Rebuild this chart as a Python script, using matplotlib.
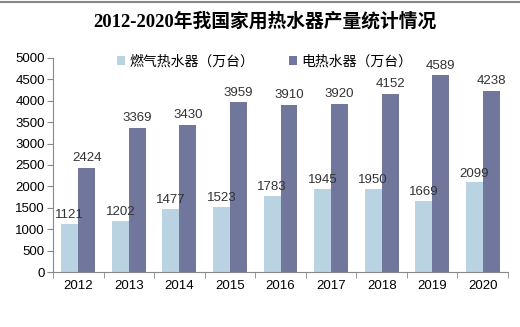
import matplotlib
matplotlib.use("Agg")
import matplotlib.pyplot as plt
import numpy as np

plt.rcParams['font.family'] = ['Liberation Sans', 'Noto Sans CJK SC']

years = ['2012', '2013', '2014', '2015', '2016', '2017', '2018', '2019', '2020']
gas = [1121, 1202, 1477, 1523, 1783, 1945, 1950, 1669, 2099]
electric = [2424, 3369, 3430, 3959, 3910, 3920, 4152, 4589, 4238]

fig = plt.figure(figsize=(5.2, 3.27), dpi=100)
ax = fig.add_axes([0.102, 0.168, 0.875, 0.655])

x = np.arange(len(years))
w = 0.335
b1 = ax.bar(x - w / 2, gas, w, color='#b9d3e2', label='燃气热水器（万台）')
b2 = ax.bar(x + w / 2, electric, w, color='#71769c', label='电热水器（万台）')

for r, v in zip(b1, gas):
    ax.text(r.get_x() + r.get_width() / 2, v + 60, str(v), ha='center', va='bottom', fontsize=9.5, color='#333333')
for r, v in zip(b2, electric):
    ax.text(r.get_x() + r.get_width() / 2, v + 90, str(v), ha='center', va='bottom', fontsize=9.5, color='#333333')

ax.set_xlim(-0.5, len(years) - 0.5)
ax.set_ylim(0, 5000)
ax.set_yticks(range(0, 5001, 500))
ax.set_xticks(x)
ax.set_xticklabels(years)
ax.set_xticks(np.arange(-0.5, len(years), 1), minor=True)
ax.tick_params(axis='x', which='major', length=0, labelsize=9.5, pad=6)
ax.tick_params(axis='x', which='minor', length=4, color='#888888')
ax.tick_params(axis='y', length=4, color='#888888', labelsize=9.5, pad=2)
for s in ['top', 'right']:
    ax.spines[s].set_visible(False)
for s in ['left', 'bottom']:
    ax.spines[s].set_color('#888888')

ax.legend(loc='upper center', bbox_to_anchor=(0.465, 1.075), ncol=2, frameon=False,
          fontsize=10, handlelength=0.6, handleheight=0.6, columnspacing=2.5, handletextpad=0.3)

fig.text(0.51, 0.935, '2012-2020年我国家用热水器产量统计情况', ha='center', va='center',
         fontsize=13.5, fontweight='bold', family=['Liberation Serif', 'Noto Sans CJK SC'])
fig.add_artist(plt.Line2D([0, 1], [0.995, 0.995], color='#888888', lw=1.5))

fig.savefig('out.png', dpi=100)
